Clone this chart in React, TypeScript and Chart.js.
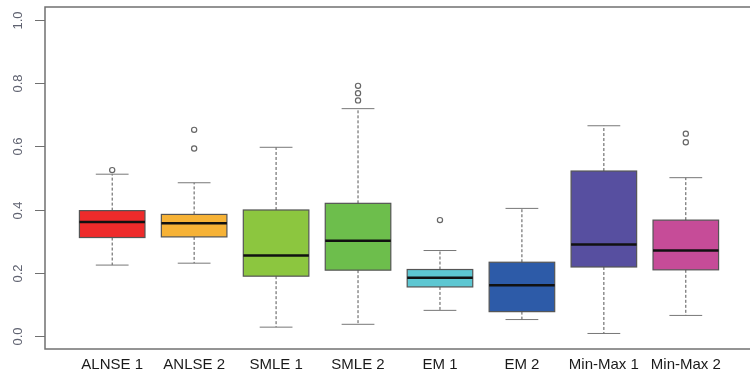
import React, { useEffect, useRef } from "react";
import { Chart, registerables } from "chart.js";

Chart.register(...registerables);

const categories = ["ALNSE 1", "ANLSE 2", "SMLE 1", "SMLE 2", "EM 1", "EM 2", "Min-Max 1", "Min-Max 2"];
const lowerWhisker = [0.225, 0.231, 0.029, 0.038, 0.082, 0.053, 0.009, 0.066];
const q1 = [0.312, 0.314, 0.19, 0.209, 0.156, 0.078, 0.219, 0.21];
const median = [0.361, 0.357, 0.255, 0.302, 0.185, 0.161, 0.29, 0.271];
const q3 = [0.397, 0.385, 0.399, 0.42, 0.211, 0.234, 0.522, 0.367];
const upperWhisker = [0.512, 0.485, 0.597, 0.719, 0.271, 0.404, 0.665, 0.501];
const outliers: number[][] = [[0.525], [0.652, 0.593], [], [0.791, 0.768, 0.745], [0.367], [], [], [0.64, 0.613]];
const colors = ["#EE2B2B", "#F6B236", "#8CC63F", "#6DBE4C", "#5DC7D2", "#2D5BA8", "#574FA0", "#C64C98"];
const yTicks = [0, 0.2, 0.4, 0.6, 0.8, 1.0];

const boxPlugin = {
  id: "boxPlugin",
  beforeDatasetsDraw(chart: any) {
    const ctx = chart.ctx;
    const xs = chart.scales.x;
    const ys = chart.scales.y;
    const area = chart.chartArea;
    ctx.save();
    // frame
    ctx.strokeStyle = "#707070";
    ctx.lineWidth = 1.5;
    ctx.strokeRect(area.left, area.top, area.right - area.left, area.bottom - area.top);
    // y ticks
    ctx.lineWidth = 1;
    ctx.fillStyle = "#5f6270";
    ctx.font = "13px 'Liberation Sans', Arial, sans-serif";
    ctx.textAlign = "center";
    ctx.textBaseline = "middle";
    for (const t of yTicks) {
      const py = Math.round(ys.getPixelForValue(t)) + 0.5;
      ctx.beginPath();
      ctx.moveTo(area.left - 10, py);
      ctx.lineTo(area.left, py);
      ctx.stroke();
      ctx.save();
      ctx.translate(18, py);
      ctx.rotate(-Math.PI / 2);
      ctx.fillText(t.toFixed(1), 0, 0);
      ctx.restore();
    }
    // x labels
    ctx.fillStyle = "#1a1a1a";
    ctx.font = "15px 'Liberation Sans', Arial, sans-serif";
    categories.forEach((c, i) => {
      ctx.fillText(c, xs.getPixelForValue(i + 1), 365);
    });
    // boxes
    categories.forEach((_, i) => {
      const cx = xs.getPixelForValue(i + 1);
      const half = xs.getPixelForValue(i + 1.4) - cx;
      const capHalf = xs.getPixelForValue(i + 1.2) - cx;
      const yLo = ys.getPixelForValue(lowerWhisker[i]);
      const yQ1 = ys.getPixelForValue(q1[i]);
      const yMed = ys.getPixelForValue(median[i]);
      const yQ3 = ys.getPixelForValue(q3[i]);
      const yHi = ys.getPixelForValue(upperWhisker[i]);
      // whiskers dashed
      ctx.strokeStyle = "#555";
      ctx.lineWidth = 1;
      ctx.setLineDash([3, 2]);
      ctx.beginPath();
      ctx.moveTo(cx, yQ1);
      ctx.lineTo(cx, yLo);
      ctx.moveTo(cx, yQ3);
      ctx.lineTo(cx, yHi);
      ctx.stroke();
      ctx.setLineDash([]);
      // caps
      ctx.strokeStyle = "#777";
      ctx.beginPath();
      ctx.moveTo(cx - capHalf, yLo);
      ctx.lineTo(cx + capHalf, yLo);
      ctx.moveTo(cx - capHalf, yHi);
      ctx.lineTo(cx + capHalf, yHi);
      ctx.stroke();
      // box
      ctx.fillStyle = colors[i];
      ctx.fillRect(cx - half, yQ3, half * 2, yQ1 - yQ3);
      ctx.strokeStyle = "#555";
      ctx.lineWidth = 1.2;
      ctx.strokeRect(cx - half, yQ3, half * 2, yQ1 - yQ3);
      // median
      ctx.strokeStyle = "#111";
      ctx.lineWidth = 2.5;
      ctx.beginPath();
      ctx.moveTo(cx - half, yMed);
      ctx.lineTo(cx + half, yMed);
      ctx.stroke();
    });
    ctx.restore();
  },
};

export default function App() {
  const ref = useRef<HTMLCanvasElement>(null);
  useEffect(() => {
    if (!ref.current) return;
    const outlierPoints: { x: number; y: number }[] = [];
    outliers.forEach((arr, i) => arr.forEach((v) => outlierPoints.push({ x: i + 1, y: v })));
    const chart = new Chart(ref.current, {
      type: "scatter",
      data: {
        datasets: [
          {
            data: outlierPoints,
            pointStyle: "circle",
            pointRadius: 2.6,
            borderColor: "#666",
            backgroundColor: "rgba(0,0,0,0)",
            borderWidth: 1.2,
          },
        ],
      },
      options: {
        animation: false,
        responsive: false,
        maintainAspectRatio: false,
        layout: { padding: { left: 45, top: 7, right: 7, bottom: 24 } },
        plugins: { legend: { display: false }, tooltip: { enabled: false } },
        scales: {
          x: { type: "linear", min: 0.18, max: 8.82, display: false },
          y: { type: "linear", min: -0.04, max: 1.04, display: false },
        },
      },
      plugins: [boxPlugin],
    });
    return () => chart.destroy();
  }, []);
  return (
    <div style={{ position: "fixed", left: 0, top: 0, width: 750, height: 373, overflow: "hidden", background: "#fff" }}>
      <canvas ref={ref} width={760} height={373} style={{ width: 760, height: 373, display: "block" }} />
    </div>
  );
}
